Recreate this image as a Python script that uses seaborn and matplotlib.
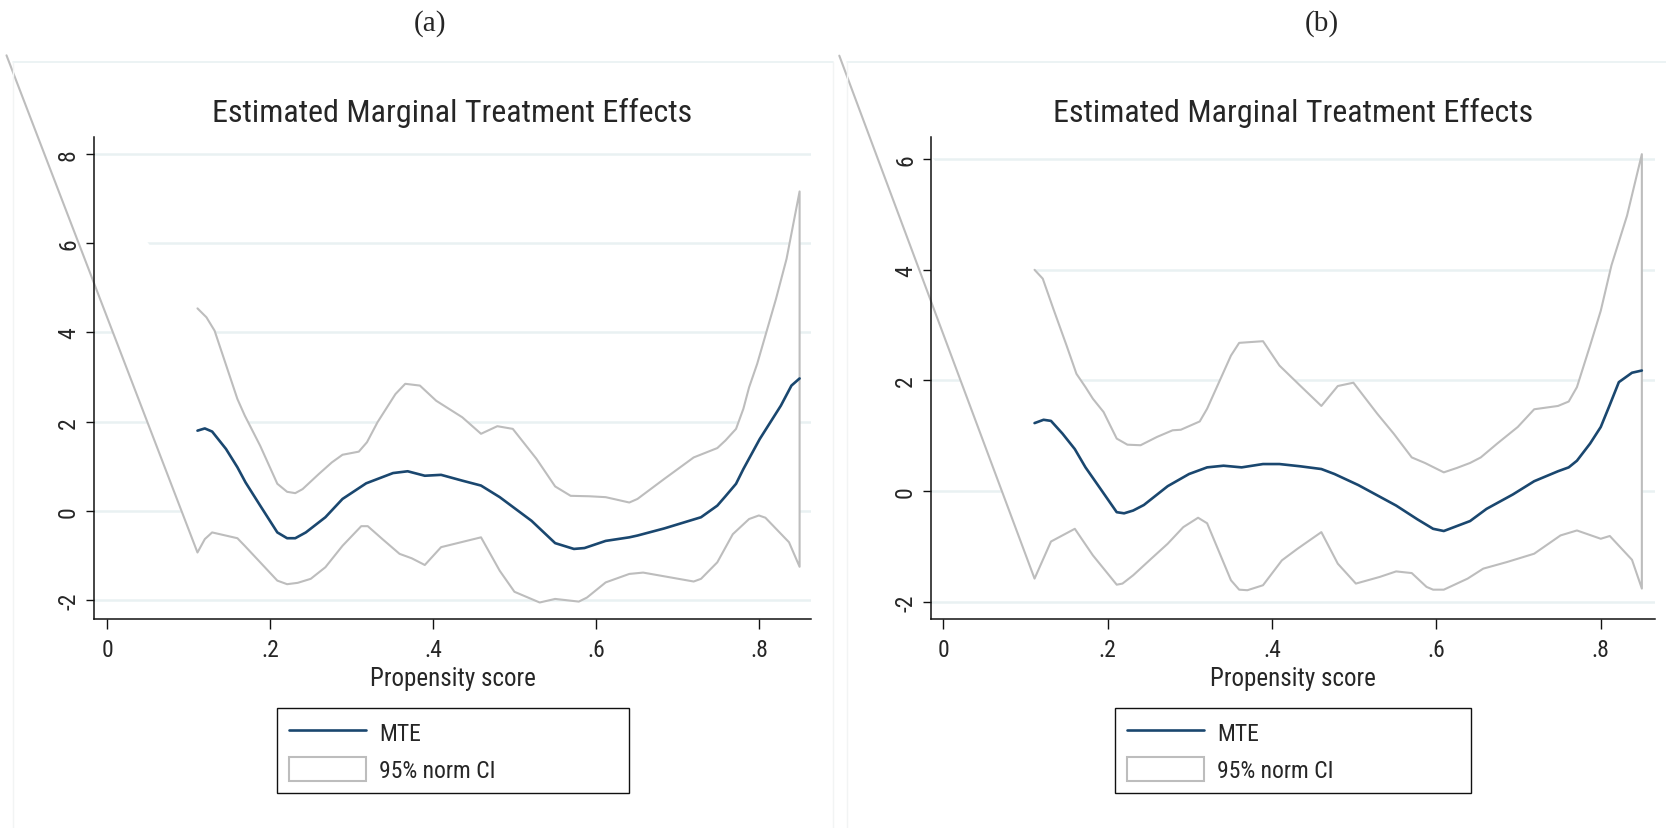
import matplotlib
matplotlib.use("Agg")
import matplotlib.pyplot as plt
from matplotlib import font_manager
from matplotlib.lines import Line2D
from matplotlib.patches import Patch
import seaborn as sns
import pandas as pd

# ---------------- data ----------------
PANEL_TAGS = ["(a)", "(b)"]
TITLE = "Estimated Marginal Treatment Effects"
X_LABEL = "Propensity score"
LEGEND_LABELS = ["MTE", "95% norm CI"]
X_TICKS = [0, 0.2, 0.4, 0.6, 0.8]
X_TICK_LABELS = ["0", ".2", ".4", ".6", ".8"]
A_Y_TICKS = [-2, 0, 2, 4, 6, 8]
B_Y_TICKS = [-2, 0, 2, 4, 6]

# panel (a)
A_MTE_X = [0.111, 0.120, 0.129, 0.146, 0.160, 0.170, 0.188, 0.209, 0.221, 0.231, 0.244, 0.268,
           0.289, 0.318, 0.351, 0.369, 0.390, 0.410, 0.436, 0.459, 0.482, 0.521, 0.550, 0.573,
           0.586, 0.612, 0.641, 0.651, 0.684, 0.729, 0.749, 0.759, 0.772, 0.781, 0.801, 0.827,
           0.840, 0.850]
A_MTE_Y = [1.80, 1.85, 1.78, 1.39, 0.98, 0.64, 0.12, -0.48, -0.61, -0.61, -0.48, -0.14,
           0.27, 0.62, 0.85, 0.89, 0.79, 0.81, 0.68, 0.57, 0.31, -0.22, -0.72, -0.85,
           -0.83, -0.67, -0.59, -0.55, -0.39, -0.14, 0.12, 0.33, 0.61, 0.94, 1.61, 2.36,
           2.81, 2.97]
A_UP_X = [0.111, 0.122, 0.132, 0.160, 0.169, 0.188, 0.209, 0.221, 0.231, 0.240, 0.260, 0.276,
          0.289, 0.309, 0.319, 0.332, 0.354, 0.366, 0.384, 0.404, 0.436, 0.459, 0.479, 0.498,
          0.527, 0.550, 0.569, 0.592, 0.612, 0.641, 0.651, 0.684, 0.720, 0.749, 0.759, 0.772,
          0.781, 0.788, 0.798, 0.808, 0.821, 0.834, 0.850]
A_UP_Y = [4.54, 4.34, 4.04, 2.51, 2.14, 1.46, 0.61, 0.43, 0.40, 0.49, 0.83, 1.09,
          1.26, 1.33, 1.54, 1.99, 2.62, 2.85, 2.81, 2.47, 2.10, 1.73, 1.90, 1.84,
          1.17, 0.55, 0.34, 0.33, 0.31, 0.19, 0.27, 0.72, 1.20, 1.41, 1.58, 1.84,
          2.29, 2.77, 3.30, 3.93, 4.75, 5.65, 7.16]
A_LO_X = [0.111, 0.120, 0.129, 0.160, 0.169, 0.188, 0.209, 0.221, 0.234, 0.250, 0.268, 0.289,
          0.312, 0.320, 0.338, 0.359, 0.374, 0.390, 0.410, 0.459, 0.482, 0.500, 0.531, 0.550,
          0.579, 0.589, 0.612, 0.641, 0.658, 0.720, 0.729, 0.749, 0.768, 0.788, 0.800, 0.808,
          0.837, 0.850]
A_LO_Y = [-0.93, -0.63, -0.48, -0.61, -0.78, -1.15, -1.56, -1.64, -1.61, -1.52, -1.26, -0.78,
          -0.34, -0.34, -0.63, -0.96, -1.06, -1.21, -0.81, -0.59, -1.34, -1.81, -2.05, -1.97,
          -2.03, -1.94, -1.60, -1.41, -1.38, -1.58, -1.52, -1.15, -0.52, -0.18, -0.10, -0.15,
          -0.70, -1.25]
A_CI_STRAY = [-0.1234, 10.21]   # stray first vertex of the CI outline (drawn outside the axes)

# panel (b)
B_MTE_X = [0.111, 0.122, 0.131, 0.145, 0.160, 0.173, 0.189, 0.211, 0.220, 0.231, 0.244, 0.273,
           0.299, 0.321, 0.341, 0.363, 0.389, 0.409, 0.434, 0.460, 0.476, 0.505, 0.551, 0.577,
           0.596, 0.609, 0.641, 0.661, 0.693, 0.719, 0.748, 0.761, 0.771, 0.787, 0.800, 0.811,
           0.822, 0.838, 0.850]
B_MTE_Y = [1.23, 1.29, 1.27, 1.04, 0.76, 0.43, 0.09, -0.38, -0.40, -0.35, -0.25, 0.09,
           0.31, 0.43, 0.46, 0.43, 0.49, 0.49, 0.45, 0.40, 0.31, 0.11, -0.26, -0.51,
           -0.68, -0.72, -0.54, -0.32, -0.06, 0.18, 0.36, 0.43, 0.55, 0.86, 1.16, 1.56,
           1.97, 2.14, 2.18]
B_UP_X = [0.111, 0.121, 0.134, 0.150, 0.162, 0.173, 0.182, 0.195, 0.211, 0.224, 0.240, 0.260,
          0.279, 0.289, 0.312, 0.321, 0.350, 0.360, 0.389, 0.409, 0.434, 0.460, 0.480, 0.499,
          0.528, 0.548, 0.570, 0.586, 0.609, 0.625, 0.641, 0.654, 0.674, 0.699, 0.719, 0.748,
          0.761, 0.771, 0.787, 0.800, 0.813, 0.832, 0.850]
B_UP_Y = [4.00, 3.84, 3.29, 2.63, 2.12, 1.88, 1.67, 1.43, 0.95, 0.84, 0.83, 0.98,
          1.10, 1.11, 1.26, 1.49, 2.45, 2.68, 2.71, 2.27, 1.91, 1.54, 1.90, 1.96,
          1.40, 1.04, 0.61, 0.51, 0.34, 0.42, 0.51, 0.61, 0.86, 1.16, 1.48, 1.54,
          1.62, 1.88, 2.63, 3.26, 4.08, 4.98, 6.09]
B_LO_X = [0.111, 0.131, 0.160, 0.182, 0.211, 0.218, 0.231, 0.253, 0.273, 0.292, 0.310, 0.321,
          0.350, 0.360, 0.370, 0.389, 0.412, 0.431, 0.460, 0.480, 0.502, 0.531, 0.551, 0.570,
          0.588, 0.596, 0.609, 0.638, 0.657, 0.686, 0.719, 0.751, 0.771, 0.800, 0.811, 0.838,
          0.850]
B_LO_Y = [-1.58, -0.91, -0.68, -1.16, -1.69, -1.67, -1.52, -1.22, -0.95, -0.65, -0.48, -0.58,
          -1.61, -1.78, -1.79, -1.70, -1.25, -1.04, -0.74, -1.31, -1.67, -1.55, -1.45, -1.48,
          -1.73, -1.78, -1.78, -1.58, -1.40, -1.28, -1.13, -0.80, -0.71, -0.86, -0.81, -1.24,
          -1.76]
B_CI_STRAY = [-0.1266, 7.87]

# ---------------- style ----------------
sns.set_style("white")
fonts = font_manager.fontManager.ttflist
names = {f.name for f in fonts}
narrow = None
for cand in ["Liberation Sans Narrow", "Arial Narrow", "Roboto Condensed", "Open Sans Condensed",
             "Noto Sans Condensed", "DejaVu Sans Condensed"]:
    if cand in names:
        narrow = cand
        break
if narrow is None:
    for f in fonts:
        if ("Narrow" in f.name or "Condensed" in f.name) and "Mono" not in f.name and "Serif" not in f.name:
            narrow = f.name
            break
SANS = narrow if narrow else "Liberation Sans"
SERIF = "Liberation Serif" if "Liberation Serif" in names else "DejaVu Serif"
plt.rcParams["font.family"] = [SANS, "DejaVu Sans"]

if narrow:
    FS_TITLE, FS_TICK, FS_LABEL, FS_LEG = 23, 17, 18, 17
else:
    FS_TITLE, FS_TICK, FS_LABEL, FS_LEG = 21, 16.5, 16.5, 15.5

NAVY = "#1a476f"
GRAY = "#bdbdbd"
GRID = "#e9f1f2"
FAINT = "#f2f4f4"

fig = plt.figure(figsize=(16.66, 8.29), dpi=100)
W, H = 1666.0, 829.0


def fx(px):
    return px / W


def fy(py):
    return 1 - py / H


# faint graph-region borders
for x0, x1 in [(13, 833), (847, 1666)]:
    fig.add_artist(Line2D([fx(x0), fx(x1)], [fy(63), fy(63)], color=GRID, lw=1.2))
for xv in [13, 833, 847]:
    fig.add_artist(Line2D([fx(xv), fx(xv)], [fy(63), fy(829)], color=FAINT, lw=1.0))

panels = [
    dict(tag=PANEL_TAGS[0], tagx=430, box=(94, 138, 811, 620), xlim=(-0.016, 0.864),
         ylim=(-2.42, 8.38), yticks=A_Y_TICKS, mx=A_MTE_X, my=A_MTE_Y, ux=A_UP_X, uy=A_UP_Y,
         lx=A_LO_X, ly=A_LO_Y, stray=A_CI_STRAY, leg=(277, 709, 629, 797)),
    dict(tag=PANEL_TAGS[1], tagx=1322, box=(931, 138, 1655, 620), xlim=(-0.015, 0.866),
         ylim=(-2.31, 6.40), yticks=B_Y_TICKS, mx=B_MTE_X, my=B_MTE_Y, ux=B_UP_X, uy=B_UP_Y,
         lx=B_LO_X, ly=B_LO_Y, stray=B_CI_STRAY, leg=(1115, 709, 1471, 797)),
]

for p in panels:
    l, t, r, b = p["box"]
    ax = fig.add_axes([fx(l), fy(b), (r - l) / W, (b - t) / H])
    ax.set_xlim(*p["xlim"])
    ax.set_ylim(*p["ylim"])
    ax.set_axisbelow(True)

    # gridlines (Stata style, horizontal only)
    ax.set_yticks(p["yticks"])
    ax.yaxis.grid(True, color=GRID, lw=1.8)
    ax.xaxis.grid(False)

    # CI polygon: stray vertex -> lower bound -> upper bound (reversed)
    poly_x = [p["stray"][0]] + list(p["lx"]) + list(p["ux"])[::-1]
    poly_y = [p["stray"][1]] + list(p["ly"]) + list(p["uy"])[::-1]
    ax.fill(poly_x, poly_y, color="white", lw=0, zorder=1)
    ci = pd.DataFrame({"x": poly_x, "y": poly_y})
    sns.lineplot(data=ci, x="x", y="y", sort=False, estimator=None, ax=ax, color=GRAY,
                 lw=1.5, clip_on=False, zorder=2)

    mte = pd.DataFrame({"x": p["mx"], "y": p["my"]})
    sns.lineplot(data=mte, x="x", y="y", sort=False, estimator=None, ax=ax, color=NAVY,
                 lw=1.9, zorder=3)

    # axes styling
    for s in ["top", "right"]:
        ax.spines[s].set_visible(False)
    for s in ["left", "bottom"]:
        ax.spines[s].set_color("#111111")
        ax.spines[s].set_linewidth(1.1)
    ax.set_xticks(X_TICKS)
    ax.set_xticklabels(X_TICK_LABELS)
    ax.set_yticklabels([str(v) for v in p["yticks"]])
    ax.tick_params(axis="x", length=7, width=1.0, pad=7, labelsize=FS_TICK, direction="out",
                   bottom=True, color="#111111")
    ax.tick_params(axis="y", length=6, width=1.0, pad=4, labelsize=FS_TICK, direction="out",
                   left=True, labelrotation=90, color="#111111")
    for lbl in ax.get_yticklabels():
        lbl.set_va("center")

    ax.set_xlabel(X_LABEL, fontsize=FS_LABEL)
    ax.set_ylabel("")
    ax.xaxis.set_label_coords(0.5, -(679 - b) / (b - t))
    ax.xaxis.label.set_va("center")

    ax.text(0.5, (b - 113) / (b - t), TITLE, transform=ax.transAxes, ha="center",
            va="center", fontsize=FS_TITLE)
    fig.text(fx(p["tagx"]), fy(24), p["tag"], ha="center", va="center", fontsize=21,
             family=[SERIF, "DejaVu Serif"])

    # legend
    ll, lt, lr, lb = p["leg"]
    handles = [Line2D([0], [0], color=NAVY, lw=1.9),
               Patch(facecolor="white", edgecolor=GRAY, lw=1.5)]
    leg = ax.legend(handles, LEGEND_LABELS, loc="upper left",
                    bbox_to_anchor=(fx(ll), fy(lb), (lr - ll) / W, (lb - lt) / H),
                    bbox_transform=fig.transFigure, mode="expand", borderaxespad=0,
                    frameon=True, fancybox=False, fontsize=FS_LEG,
                    handlelength=77 / (FS_LEG * 100 / 72),
                    handleheight=28 / (FS_LEG * 100 / 72),
                    handletextpad=0.55, labelspacing=0.5, borderpad=0.5)
    fr = leg.get_frame()
    fr.set_edgecolor("#111111")
    fr.set_linewidth(1.0)
    fr.set_facecolor("white")
    fr.set_alpha(1)

fig.savefig("out.png", dpi=100, facecolor="white")
